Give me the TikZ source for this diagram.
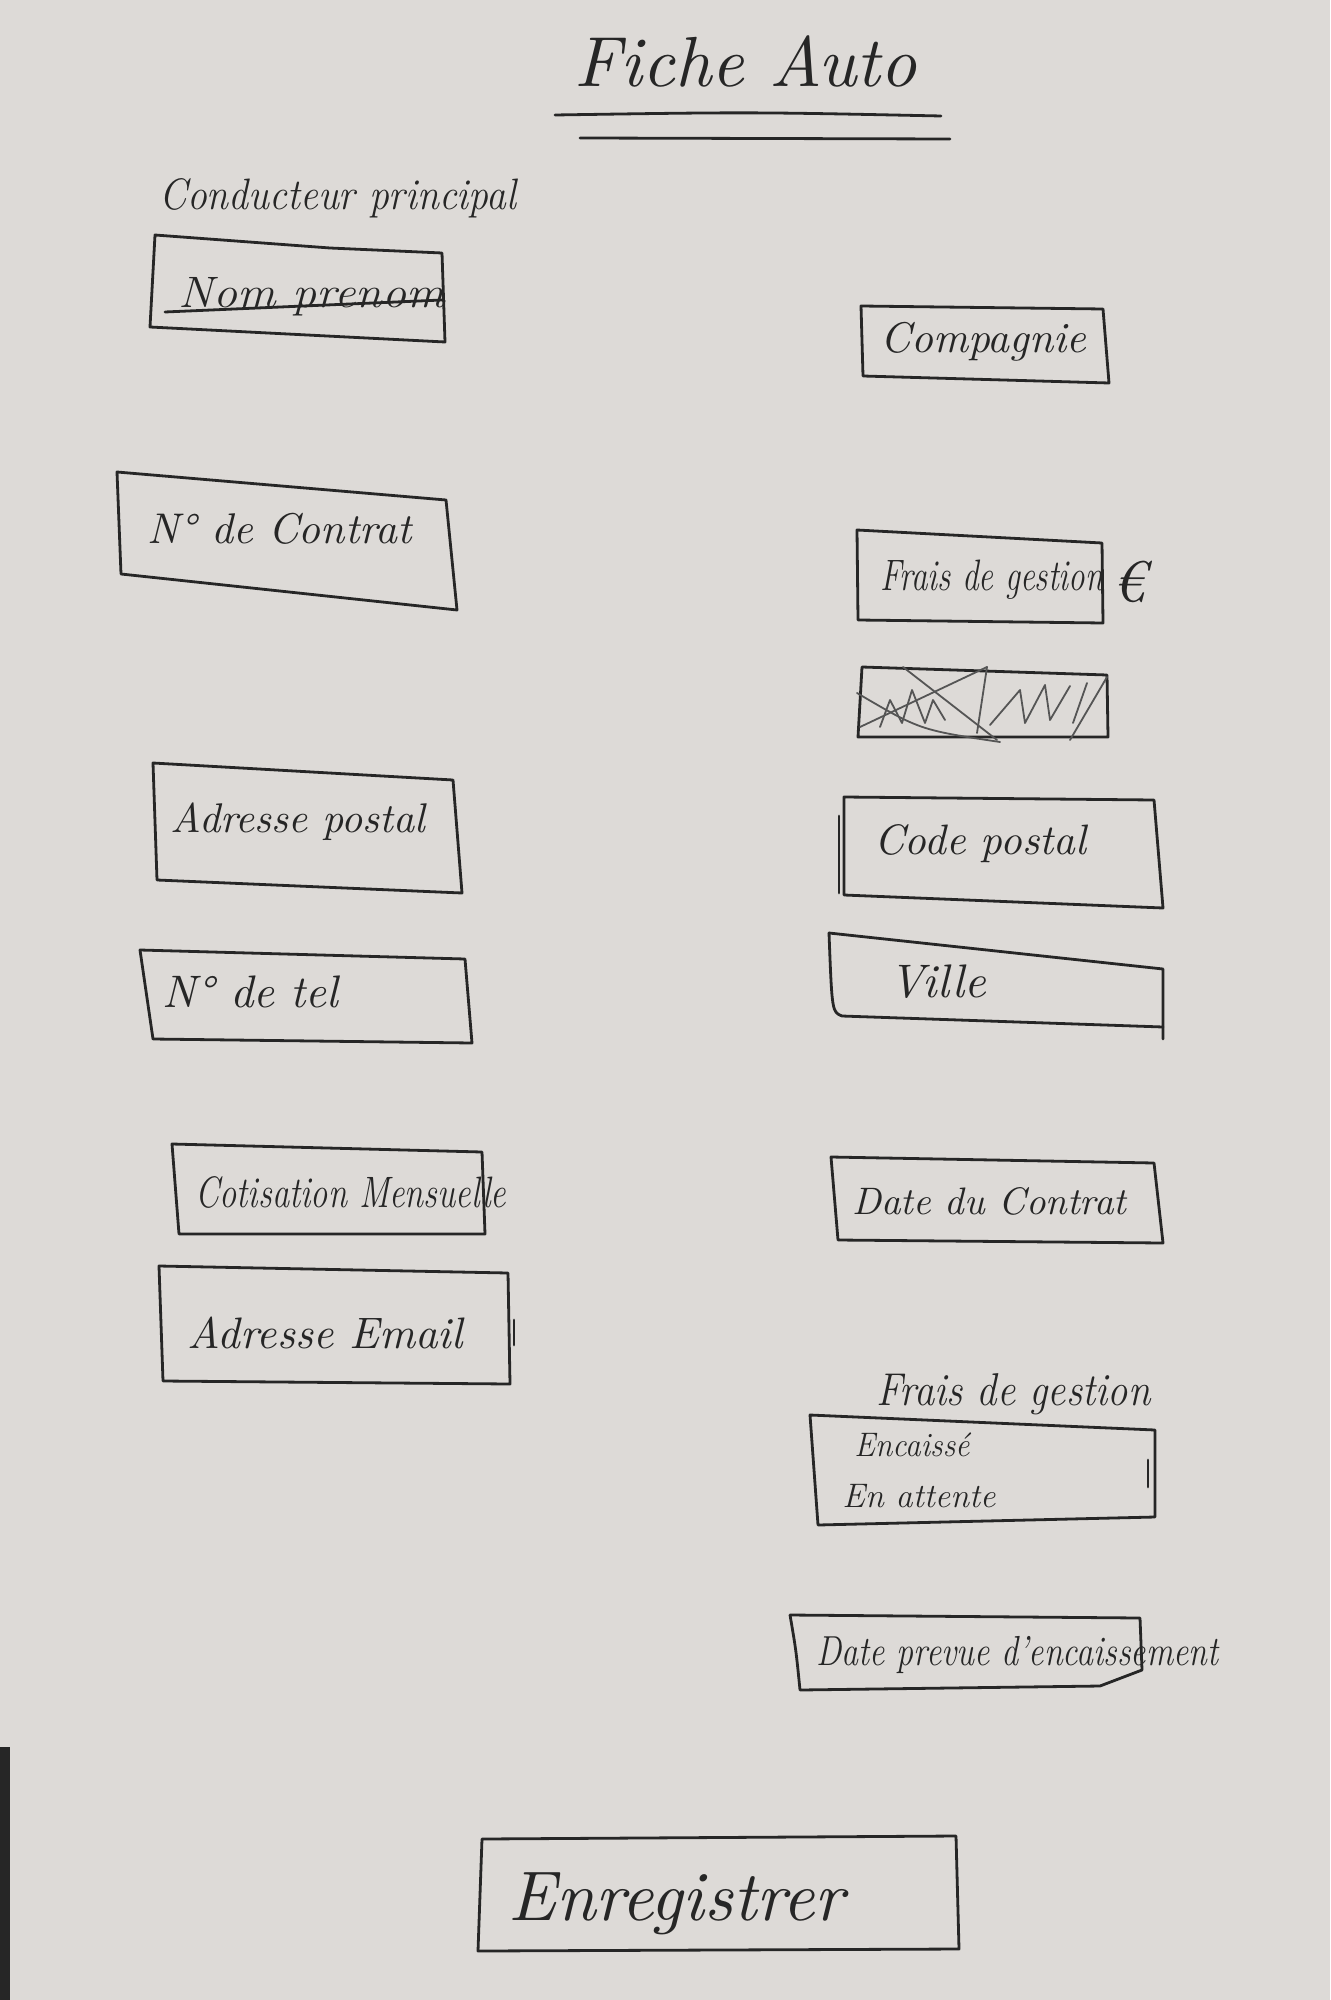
\documentclass[tikz,border=0pt]{standalone}
\usepackage{fontspec}
\usepackage{graphicx}
\definecolor{paper}{HTML}{DDDAD7}
\definecolor{ink}{HTML}{262626}
\definecolor{pencil}{HTML}{555555}
\newcommand{\hw}[2]{\resizebox{#1pt}{!}{#2}}
\newcommand{\hwq}[3]{{\fontsize{#2pt}{#2pt}\selectfont\resizebox{#1pt}{\height}{#3}}}
\tikzset{
  box/.style={draw=ink, line width=1.4pt, line join=round, line cap=round},
  lbl/.style={text=ink, inner sep=0pt, anchor=west, font=\itshape},
  scrib/.style={draw=pencil, line width=0.9pt, line cap=round, line join=round}
}
\begin{document}
\begin{tikzpicture}[x=0.5pt,y=-0.5pt]
\fill[paper] (0,0) rectangle (1330,2000);
\useasboundingbox (0,0) rectangle (1330,2000);
\fill[ink] (0,1747) rectangle (10,2000);

% title
\node[lbl] (title) at (574,61) {\hw{171}{Fiche Auto}};
\draw[box] (555,115) .. controls (750,112) .. (941,116);
\draw[box] (580,138) -- (950,139);

% left column
\node[lbl] (cond) at (159,198) {\hwq{178.5}{22}{Conducteur principal}};
\draw[box] (155,235) -- (330,248) -- (442,253) -- (445,342) -- (150,327) -- cycle;
\node[lbl] (nom) at (178,297) {\hwq{133}{22}{Nom prenom}};
\draw[box] (165,312) -- (442,300);

\draw[box] (117,472) -- (446,500) -- (457,610) -- (121,574) -- cycle;
\node[lbl] (contrat) at (147,529) {\hw{132}{N° de Contrat}};

\draw[box] (153,763) -- (453,780) -- (462,893) -- (157,880) -- cycle;
\node[lbl] (adr) at (170,822) {\hw{127.5}{Adresse postal}};

\draw[box] (140,950) -- (465,959) -- (472,1043) -- (153,1039) -- cycle;
\node[lbl] (tel) at (162,992) {\hw{88}{N° de tel}};

\draw[box] (172,1144) -- (482,1152) -- (485,1234) -- (179,1234) -- cycle;
\node[lbl] (cotis) at (195,1192) {\hwq{155.5}{22}{Cotisation Mensuelle}};

\draw[box] (159,1266) -- (508,1273) -- (510,1384) -- (163,1381) -- cycle;
\draw[box] (514,1320) -- (514,1345);
\node[lbl] (mail) at (187,1333) {\hw{137.5}{Adresse Email}};

% right column
\draw[box] (861,306) -- (1103,309) -- (1109,383) -- (863,376) -- cycle;
\node[lbl] (comp) at (880,342) {\hw{103}{Compagnie}};

\draw[box] (857,530) -- (1102,543) -- (1103,623) -- (858,620) -- cycle;
\node[lbl] (frais) at (880,580) {\hwq{111.5}{22}{Frais de gestion}};
\node[lbl] (euro) at (1112,582) {\hw{16.5}{€}};

\draw[box] (862,667) -- (1107,675) -- (1108,737) -- (858,737) -- cycle;
\draw[scrib] (857,693) .. controls (920,730) .. (1000,742);
\draw[scrib] (903,667) -- (997,740);
\draw[scrib] (860,727) -- (987,667);
\draw[scrib] (880,727) -- (890,700) -- (902,723) -- (912,690) -- (925,723) -- (933,700) -- (945,720);
\draw[scrib] (987,667) -- (977,733);
\draw[scrib] (990,725) -- (1020,690) -- (1025,723) -- (1045,685) -- (1050,720) -- (1070,686);
\draw[scrib] (1107,677) -- (1070,740);
\draw[scrib] (1087,683) -- (1073,723);

\draw[box] (844,797) -- (1154,800) -- (1163,908) -- (844,895) -- cycle;
\draw[box] (839,816) -- (839,893);
\node[lbl] (cp) at (874,844) {\hw{106}{Code postal}};

\draw[box] (829,933) -- (1163,969) -- (1163,1039);
\draw[box] (1163,1027) -- (842,1016) .. controls (832,1012) .. (829,933);
\node[lbl] (ville) at (889,982) {\hw{48.5}{Ville}};

\draw[box] (831,1157) -- (1154,1163) -- (1163,1243) -- (838,1240) -- cycle;
\node[lbl] (date) at (852,1201) {\hw{137}{Date du Contrat}};

\node[lbl] (fraisl) at (876,1394) {\hwq{137}{23}{Frais de gestion}};
\draw[box] (810,1415) -- (1155,1430) -- (1155,1517) -- (818,1525) -- cycle;
\draw[box] (1148,1460) -- (1148,1487);
\node[lbl] (enc) at (854,1445) {\hwq{57.5}{17}{Encaissé}};
\node[lbl] (att) at (842,1496) {\hwq{76.5}{17}{En attente}};

\draw[box] (790,1615) -- (1140,1618) -- (1142,1670) -- (1100,1686) -- (800,1690) .. controls (796,1650) .. (790,1615);
\node[lbl] (prev) at (816,1655) {\hwq{201}{21}{Date prevue d'encaissement}};

% button
\draw[box] (482,1839) -- (956,1836) -- (959,1949) -- (478,1951) -- cycle;
\node[lbl] (save) at (508,1904) {\hw{168}{Enregistrer}};
\end{tikzpicture}
\end{document}
